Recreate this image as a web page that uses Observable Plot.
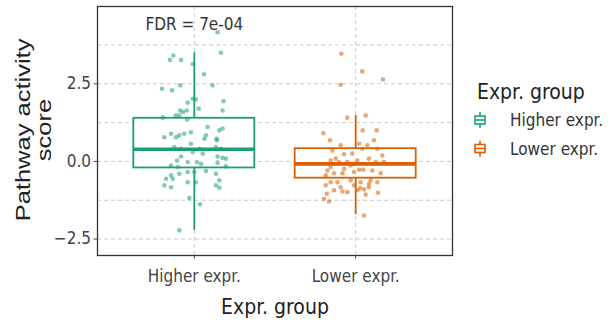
<!DOCTYPE html>
<html><head><meta charset="utf-8">
<script src="https://cdn.jsdelivr.net/npm/d3@7"></script>
<script src="https://cdn.jsdelivr.net/npm/@observablehq/plot@0.6"></script>
<style>
body{margin:0;background:#fff;}
#wrap{position:relative;width:610px;height:322px;}
#wrap svg{position:absolute;left:0;top:0;}
</style></head><body><div id="wrap"></div>
<script>
const categories = ["Higher expr.", "Lower expr."];
const colors = ["#1B9E77", "#D95F02"];
const legendTitle = "Expr. group";
const xTitle = "Expr. group";
const yTitle = "Pathway activity\nscore";
const fdrLabel = "FDR = 7e-04";
const fdrY = 4.4;
const yTicks = [-2.5, 0, 2.5];
const gridY = [-2.5, -1.25, 0, 1.25, 2.5, 3.75];

const higherScore = [4.16,3.50,3.41,3.27,3.27,3.14,2.81,2.45,2.34,2.29,
2.45,2.02,2.00,1.94,1.89,1.70,1.64,1.64,1.59,1.64,
1.48,1.48,1.41,1.35,1.11,1.00,0.89,0.84,0.78,0.78,
0.89,0.84,0.73,0.73,0.94,0.57,0.46,0.41,0.41,0.46,
0.41,0.30,0.25,0.16,0.16,0.12,0.09,0.03,-0.02,-0.02,
-0.08,-0.13,-0.18,-0.04,-0.16,-0.34,-0.34,-0.31,-0.40,-0.40,
-0.45,-0.56,-0.56,-0.67,-0.67,-0.61,-0.77,-0.83,-0.77,-0.85,
-1.18,-1.38,-2.22,1.06,0.68];
const higherJitter = [0.144,0.165,-0.130,-0.151,-0.082,-0.010,0.060,0.113,-0.200,-0.138,
-0.087,-0.010,0.010,0.181,-0.041,0.027,0.175,-0.087,-0.070,-0.047,
-0.115,-0.093,-0.196,-0.045,0.082,0.155,-0.144,-0.093,-0.186,-0.113,
-0.062,0.072,0.062,0.138,-0.021,-0.021,-0.124,-0.082,0.031,0.134,
0.165,-0.010,0.052,-0.082,0.144,0.175,0.196,-0.107,-0.041,0.016,
0.041,-0.144,-0.103,0.144,0.196,-0.041,0.000,0.072,-0.093,0.134,
-0.144,-0.175,-0.134,-0.041,0.010,0.155,-0.186,-0.144,0.134,0.155,
-0.031,0.035,-0.093,0.175,0.140];

const lowerScore = [3.47,2.90,2.64,2.47,1.41,1.48,0.91,1.00,1.00,
0.68,0.52,0.35,0.23,0.25,0.57,0.41,0.52,0.68,0.41,
0.19,-0.02,0.03,0.09,-0.29,-0.38,-0.38,-0.13,-0.34,-0.27,
-0.27,-0.29,-0.38,0.03,0.09,-0.02,-0.02,-0.45,
-0.67,-0.93,-1.04,-0.83,-0.97,-0.67,-0.86,-0.90,-1.07,-0.83,-1.01,-0.67,-1.20,-1.29,-1.74,
-0.67,-0.61,-0.02,-0.08,-0.24,-0.18,-0.61,-0.77,-0.77,-0.72,-0.99,-0.93];
const lowerJitter = [-0.089,0.041,0.169,-0.093,-0.052,0.062,-0.200,0.043,0.130,
-0.159,-0.093,-0.144,-0.072,-0.021,0.021,0.041,0.072,0.113,0.134,
0.165,0.175,-0.155,-0.124,-0.175,-0.134,-0.082,-0.031,-0.010,0.021,
0.047,0.103,0.155,0.010,0.082,0.124,-0.052,-0.186,
-0.155,-0.134,-0.179,-0.093,-0.082,0.031,0.027,0.052,0.062,0.082,0.138,0.134,-0.196,-0.165,0.052,
-0.113,-0.031,-0.103,-0.010,-0.072,-0.155,0.093,-0.186,-0.010,0.082,-0.052,0.010];

const boxQ1 = [-0.21, -0.54];
const boxMedian = [0.39, -0.08];
const boxQ3 = [1.39, 0.41];
const whiskerLow = [-2.22, -1.72];
const whiskerHigh = [3.50, 1.48];

const FONT = "'Liberation Sans Narrow', 'DejaVu Sans Condensed', 'Roboto', sans-serif";
const FONT_REG = "'Liberation Sans', Arial, sans-serif";

const points = [];
higherScore.forEach((v, i) => points.push({cat: categories[0], x: 1 + higherJitter[i], y: v}));
lowerScore.forEach((v, i) => points.push({cat: categories[1], x: 2 + lowerJitter[i], y: v}));
const boxes = categories.map((c, i) => ({cat: c, x: i + 1, q1: boxQ1[i], med: boxMedian[i], q3: boxQ3[i], lo: whiskerLow[i], hi: whiskerHigh[i]}));
const halfW = 0.375;

const chart = Plot.plot({
  width: 610, height: 322,
  marginLeft: 97, marginRight: 158, marginTop: 6, marginBottom: 67,
  style: {fontFamily: FONT, background: "transparent", overflow: "visible"},
  x: {type: "linear", domain: [0.4, 2.6], axis: null},
  y: {domain: [-3.03, 4.99], axis: null},
  color: {domain: categories, range: colors},
  marks: [
    Plot.ruleY(gridY, {stroke: "#c8c8c8", strokeDasharray: "4,3", strokeWidth: 1}),
    Plot.ruleX([1, 2], {stroke: "#c8c8c8", strokeDasharray: "4,3", strokeWidth: 1}),
    Plot.ruleX(boxes, {x: "x", y1: "lo", y2: "hi", stroke: "cat", strokeWidth: 1.8}),
    Plot.rect(boxes, {x1: d => d.x - halfW, x2: d => d.x + halfW, y1: "q1", y2: "q3", fill: "white", stroke: "cat", strokeWidth: 1.8}),
    Plot.ruleY(boxes, {y: "med", x1: d => d.x - halfW, x2: d => d.x + halfW, stroke: "cat", strokeWidth: 3.6}),
    Plot.dot(points, {x: "x", y: "y", r: 2.3, fill: "cat", fillOpacity: 0.55}),
    Plot.text([fdrLabel], {x: 1, y: fdrY, text: d => d, fontSize: 17, fill: "#333"}),
    Plot.frame({stroke: "#333", strokeWidth: 1.3}),
    Plot.axisY(yTicks, {tickSize: 3.5, tickPadding: 3, fontSize: 17, color: "#444", label: null,
      tickFormat: d => (d < 0 ? "\u2212" : "") + Math.abs(d).toFixed(1)}),
    Plot.axisX([1, 2], {tickSize: 3.5, tickPadding: 11, fontSize: 17, color: "#444", label: null,
      tickFormat: d => categories[d - 1]}),
    Plot.text([yTitle], {frameAnchor: "left", textAnchor: "middle", lineAnchor: "middle", dx: -64, dy: -1, rotate: -90, fontSize: 25.5,
      lineHeight: 1.06, fontFamily: FONT_REG, fill: "#222", text: d => d}),
    Plot.text([xTitle], {frameAnchor: "bottom", textAnchor: "middle", dy: 58, fontSize: 21, fill: "#222", text: d => d})
  ]
});
// the reference is horizontally compressed: squeeze the rotated title across its lines
d3.select(chart).selectAll("text")
  .filter(function() { return this.textContent.startsWith("Pathway"); })
  .each(function() {
    const t = this.getAttribute("transform") || "";
    this.setAttribute("transform", t + " scale(1,0.78)");
  });
const wrap = document.getElementById("wrap");
wrap.appendChild(chart);

// legend
const leg = d3.create("svg").attr("width", 610).attr("height", 322)
  .style("font-family", FONT).style("pointer-events", "none");
leg.append("text").attr("x", 477).attr("y", 99).attr("font-size", 21).attr("fill", "#222").text(legendTitle);
categories.forEach((c, i) => {
  const cy = 120 + i * 28.5;
  const g = leg.append("g").attr("stroke", colors[i]).attr("fill", "none").attr("stroke-width", 1.6);
  g.append("line").attr("x1", 480).attr("x2", 480).attr("y1", cy - 8).attr("y2", cy - 4);
  g.append("line").attr("x1", 480).attr("x2", 480).attr("y1", cy + 4).attr("y2", cy + 8);
  g.append("rect").attr("x", 475).attr("y", cy - 4).attr("width", 10).attr("height", 8).attr("fill", "white");
  g.append("line").attr("x1", 475).attr("x2", 485).attr("y1", cy).attr("y2", cy);
  leg.append("text").attr("x", 510).attr("y", cy + 6).attr("font-size", 17).attr("fill", "#333").text(c);
});
wrap.appendChild(leg.node());
</script></body></html>
